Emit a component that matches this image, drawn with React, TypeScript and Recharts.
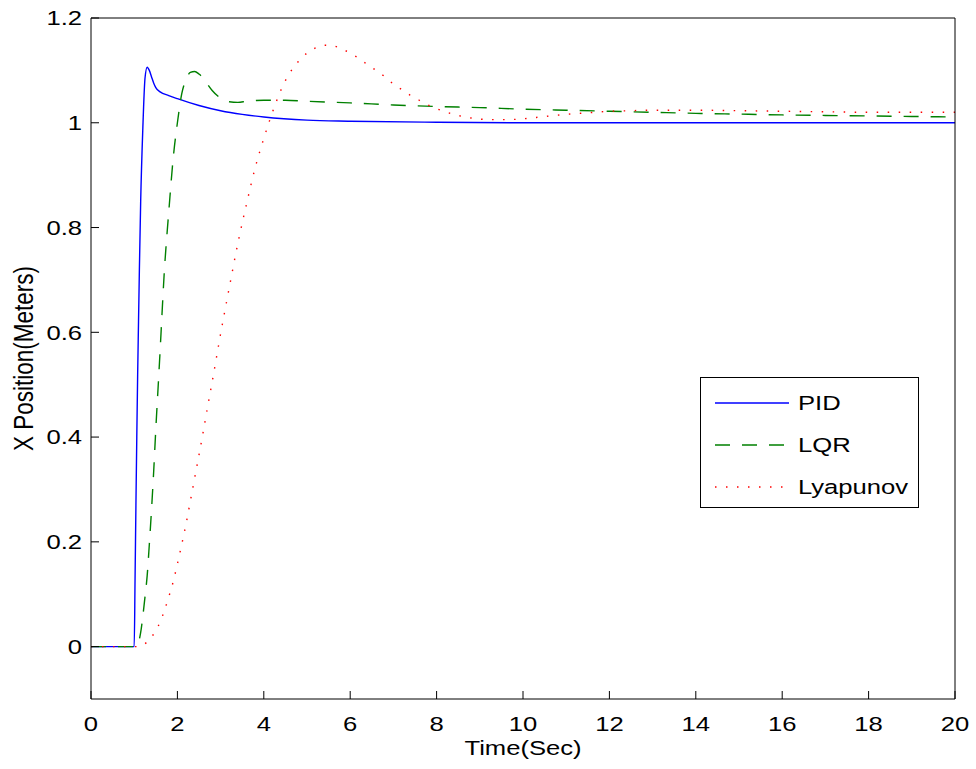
import React from 'react';
import { LineChart, Line, XAxis, YAxis, Legend } from 'recharts';

// time samples and responses
const pidTime = [0, 1.0, 1.02, 1.04, 1.06, 1.08, 1.1, 1.12, 1.15, 1.2, 1.25, 1.3, 1.35, 1.4, 1.45, 1.5, 1.6, 1.8, 2.0, 2.5, 3.0, 3.5, 4.0, 5.0, 6.0, 8.0, 10, 20];
const pidPos = [0, 0, 0.13, 0.27, 0.4, 0.52, 0.62, 0.72, 0.85, 0.99, 1.085, 1.106, 1.1, 1.088, 1.076, 1.067, 1.059, 1.052, 1.046, 1.033, 1.023, 1.016, 1.011, 1.005, 1.003, 1.001, 1.0, 1.0];

const lqrTime = [0, 1.0, 1.05, 1.1, 1.15, 1.2, 1.25, 1.3, 1.35, 1.4, 1.45, 1.5, 1.55, 1.6, 1.65, 1.7, 1.75, 1.8, 1.9, 2.0, 2.1, 2.2, 2.3, 2.4, 2.5, 2.6, 2.7, 2.8, 3.0, 3.2, 3.4, 3.6, 4.0, 4.5, 5, 6, 7, 8, 9, 10, 11, 12, 13, 14, 15, 16, 17, 18, 19, 20];
const lqrPos = [0, 0, 0.001, 0.008, 0.027, 0.058, 0.095, 0.135, 0.195, 0.26, 0.333, 0.415, 0.49, 0.565, 0.645, 0.72, 0.778, 0.83, 0.93, 1.0, 1.055, 1.083, 1.096, 1.098, 1.093, 1.085, 1.073, 1.062, 1.047, 1.04, 1.039, 1.041, 1.043, 1.043, 1.041, 1.038, 1.034, 1.031, 1.029, 1.026, 1.024, 1.022, 1.02, 1.018, 1.0165, 1.015, 1.014, 1.013, 1.012, 1.011];

const lyaTime = [0, 1.0, 1.1, 1.2, 1.3, 1.4, 1.5, 1.6, 1.7, 1.8, 1.9, 2.0, 2.1, 2.2, 2.3, 2.4, 2.5, 2.6, 2.7, 2.8, 2.9, 3.0, 3.2, 3.4, 3.6, 3.8, 4.0, 4.2, 4.4, 4.6, 4.8, 5.0, 5.2, 5.4, 5.6, 5.8, 6.0, 6.2, 6.4, 6.6, 6.8, 7.0, 7.2, 7.4, 7.6, 7.8, 8.0, 8.2, 8.4, 8.6, 8.8, 9.0, 9.3, 9.6, 10, 10.5, 11, 11.5, 12, 12.5, 13, 14, 15, 16, 17, 18, 20];
const lyaPos = [0, 0, 0.0, 0.003, 0.009, 0.018, 0.031, 0.047, 0.069, 0.095, 0.123, 0.158, 0.195, 0.234, 0.278, 0.322, 0.366, 0.411, 0.458, 0.503, 0.55, 0.597, 0.685, 0.77, 0.845, 0.914, 0.97, 1.02, 1.063, 1.095, 1.117, 1.133, 1.143, 1.148, 1.147, 1.141, 1.133, 1.123, 1.111, 1.1, 1.088, 1.074, 1.063, 1.052, 1.043, 1.034, 1.027, 1.021, 1.016, 1.012, 1.009, 1.007, 1.006, 1.006, 1.0075, 1.012, 1.016, 1.019, 1.022, 1.023, 1.024, 1.024, 1.023, 1.022, 1.021, 1.02, 1.02];

const xTicks = [0, 2, 4, 6, 8, 10, 12, 14, 16, 18, 20];
const yTicks = [0, 0.2, 0.4, 0.6, 0.8, 1, 1.2];

const toRows = (t: number[], v: number[]) => t.map((time, i) => ({ time, pos: v[i] }));

const series = [
  { name: 'PID', data: toRows(pidTime, pidPos), color: '#0000ff', dash: undefined as string | undefined },
  { name: 'LQR', data: toRows(lqrTime, lqrPos), color: '#008000', dash: '15 12' },
  { name: 'Lyapunov', data: toRows(lyaTime, lyaPos), color: '#ff0000', dash: '1.5 9.5' },
];

const FONT = '"Liberation Sans", Arial, sans-serif';
const FS = 20.5;
// the original image is stretched sideways, so text is too
const SX = 1.25;

const fmt = (v: number) => String(Number(v.toFixed(1)));

const XTick = (props: any) => {
  const { x, y, payload } = props;
  return (
    <text transform={`translate(${x},${y}) scale(${SX},1)`} textAnchor="middle" dy="0.71em" fontSize={FS} fill="#000" fontFamily={FONT}>
      {fmt(payload.value)}
    </text>
  );
};

const YTick = (props: any) => {
  const { x, y, payload } = props;
  return (
    <text transform={`translate(${x},${y}) scale(${SX},1)`} textAnchor="end" dy="0.355em" fontSize={FS} fill="#000" fontFamily={FONT}>
      {fmt(payload.value)}
    </text>
  );
};

const XLabel = (props: any) => {
  const vb = props.viewBox;
  const cx = vb.x + vb.width / 2;
  const cy = vb.y + vb.height - 14;
  return (
    <text transform={`translate(${cx},${cy}) scale(${SX},1)`} textAnchor="middle" fontSize={FS} fill="#000" fontFamily={FONT}>
      Time(Sec)
    </text>
  );
};

const YLabel = (props: any) => {
  const vb = props.viewBox;
  const cx = 23;
  const cy = vb.y + vb.height / 2;
  return (
    <text transform={`translate(${cx},${cy}) scale(${SX},1) rotate(-90)`} textAnchor="middle" dy="0.355em" fontSize={22.5} fill="#000" fontFamily={FONT}>
      X Position(Meters)
    </text>
  );
};

const LegendBox = () => (
  <div style={{ width: 217, height: 129, border: '1px solid #000', background: '#fff', fontFamily: FONT }}>
    <svg width={217} height={129}>
      {series.map((s, i) => {
        const cy = 25 + i * 42;
        return (
          <g key={s.name}>
            <line x1={14} x2={88} y1={cy} y2={cy} stroke={s.color} strokeWidth={1.3} strokeDasharray={s.dash} />
            <text transform={`translate(97,${cy}) scale(${SX},1)`} dy="0.355em" fontSize={FS} fill="#000">{s.name}</text>
          </g>
        );
      })}
    </svg>
  </div>
);

export default function App() {
  return (
    <div style={{ position: 'absolute', left: 0, top: 0, width: 976, height: 769, background: '#fff', fontFamily: FONT }}>
      <LineChart width={976} height={769} margin={{ top: 17, right: 20, left: 0, bottom: 0 }}>
        <XAxis
          dataKey="time"
          type="number"
          domain={[0, 20]}
          ticks={xTicks}
          height={70}
          stroke="#000"
          tickSize={-8}
          tickMargin={25}
          tick={<XTick />}
          label={{ content: <XLabel /> }}
        />
        <XAxis xAxisId="top" orientation="top" type="number" domain={[0, 20]} ticks={xTicks} height={1} stroke="#000" tickSize={-8} tick={false} />
        <YAxis
          type="number"
          domain={[-0.1, 1.2]}
          ticks={yTicks}
          width={91}
          stroke="#000"
          tickSize={-8}
          tickMargin={17}
          tick={<YTick />}
          label={{ content: <YLabel /> }}
        />
        <YAxis yAxisId="right" orientation="right" type="number" domain={[-0.1, 1.2]} ticks={yTicks} width={1} stroke="#000" tickSize={-8} tick={false} />
        <Legend
          layout="vertical"
          align="center"
          verticalAlign="middle"
          content={<LegendBox />}
          wrapperStyle={{ left: 700, top: 377, width: 219 }}
        />
        {series.map((s) => (
          <Line
            key={s.name}
            data={s.data}
            dataKey="pos"
            name={s.name}
            type="monotone"
            stroke={s.color}
            strokeWidth={1.4}
            strokeDasharray={s.dash}
            dot={false}
            activeDot={false}
            isAnimationActive={false}
          />
        ))}
      </LineChart>
    </div>
  );
}
